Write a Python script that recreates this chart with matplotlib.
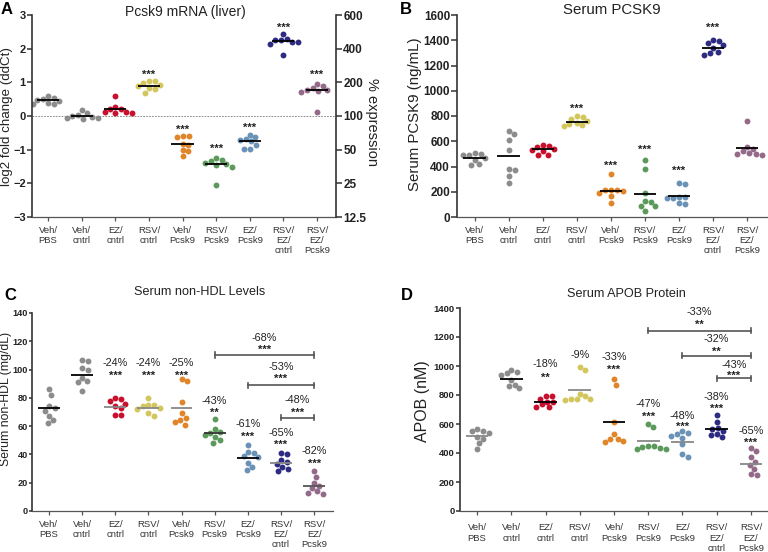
import numpy as np
import matplotlib.pyplot as plt

plt.rcParams['font.family'] = ['Liberation Sans', 'DejaVu Sans']

# groups and colours
groups = ["Veh/\nPBS", "Veh/\ncntrl", "EZ/\ncntrl", "RSV/\ncntrl", "Veh/\nPcsk9",
          "RSV/\nPcsk9", "EZ/\nPcsk9", "RSV/\nEZ/\ncntrl", "RSV/\nEZ/\nPcsk9"]
colors = ["#8c8c8c", "#8c8c8c", "#c8102e", "#d2c65c", "#e0852a",
          "#5c9a5c", "#6a92b6", "#2e2b82", "#946a8a"]

# A: Pcsk9 mRNA (log2 fold change)
mrna = [[0.60, 0.53, 0.48, 0.46, 0.38, 0.36, 0.35, 0.50],
        [0.17, 0.08, 0.02, -0.02, -0.05, -0.08, -0.05, 0.00],
        [0.58, 0.28, 0.22, 0.20, 0.12, 0.10, 0.10, 0.12],
        [1.05, 1.03, 0.98, 0.93, 0.90, 0.80, 0.82, 0.68],
        [-0.60, -0.60, -0.62, -0.82, -0.85, -1.02, -1.05, -1.20],
        [-1.25, -1.30, -1.35, -1.40, -1.42, -1.45, -1.50, -2.05],
        [-0.55, -0.62, -0.68, -0.72, -0.75, -0.85, -0.98, -0.98],
        [2.45, 2.30, 2.25, 2.25, 2.20, 2.20, 2.15, 1.80],
        [0.95, 0.88, 0.82, 0.78, 0.77, 0.75, 0.72, 0.13]]
mrna_mean = [0.47, 0.0, 0.22, 0.90, -0.83, -1.42, -0.75, 2.22, 0.77]
mrna_stars = ["", "", "", "***", "***", "***", "***", "***", "***"]
pct_ticks = ["12.5", "25", "50", "100", "200", "400", "600"]

# B: serum PCSK9 (ng/mL)
pcsk9 = [[510, 500, 495, 490, 465, 450, 420, 410],
         [685, 660, 610, 530, 380, 370, 325, 268],
         [572, 560, 555, 540, 530, 520, 495, 490],
         [800, 790, 780, 760, 745, 735, 725, 720],
         [340, 215, 212, 210, 205, 190, 165, 110],
         [455, 380, 190, 125, 120, 90, 85, 48],
         [268, 260, 160, 155, 150, 148, 110, 105],
         [1405, 1395, 1380, 1360, 1340, 1310, 1300, 1285],
         [760, 555, 540, 520, 505, 500, 500, 495]]
pcsk9_mean = [466, 482, 535, 751, 208, 184, 169, 1342, 548]
pcsk9_stars = ["", "", "", "***", "***", "***", "***", "***", ""]

# C: serum non-HDL (mg/dL)
nonhdl = [[86, 82, 74, 73, 71, 67, 64, 62],
          [107, 106, 101, 100, 94, 92, 91, 85],
          [80, 79, 78, 76, 74, 73, 68, 68],
          [80, 75, 75, 74, 73, 72, 69, 67],
          [93, 92, 77, 69, 66, 64, 63, 61],
          [65, 58, 56, 55, 54, 52, 50, 48],
          [47, 42, 41, 39, 38, 34, 31, 29],
          [41, 40, 36, 35, 33, 31, 30, 28],
          [28, 24, 20, 18, 16, 14, 13, 12]]
nonhdl_mean = [72.6, 96.5, 73.8, 73.0, 73.0, 55.4, 37.8, 34.0, 17.9]
nonhdl_pct = ["", "", "-24%", "-24%", "-25%", "-43%", "-61%", "-65%", "-82%"]
nonhdl_stars = ["", "", "***", "***", "***", "**", "***", "***", "***"]
nonhdl_cmp = [(5, 8, "-68%", "***"), (6, 8, "-53%", "***"), (7, 8, "-48%", "***")]

# D: serum APOB (nM)
apob = [[565, 555, 550, 540, 510, 500, 470, 430],
        [975, 960, 950, 940, 905, 870, 860, 845],
        [795, 790, 775, 755, 750, 735, 720, 715],
        [990, 975, 810, 790, 775, 770, 770, 765],
        [910, 870, 615, 530, 500, 500, 480, 475],
        [600, 580, 450, 445, 440, 435, 430, 425],
        [550, 540, 530, 520, 505, 460, 390, 375],
        [660, 615, 575, 565, 555, 530, 525, 510],
        [435, 415, 370, 340, 320, 290, 255, 245]]
apob_mean = [515, 910, 754, 834, 616, 480, 474, 566, 322]
apob_pct = ["", "", "-18%", "-9%", "-33%", "-47%", "-48%", "-38%", "-65%"]
apob_stars = ["", "", "**", "", "***", "***", "***", "***", "***"]
apob_cmp = [(5, 8, "-33%", "**"), (6, 8, "-32%", "**"), (7, 8, "-43%", "***")]

# layout of annotations (data units, visual centres)
mrna_star_y = [0, 0, 0, 1.29, -0.32, -0.90, -0.26, 2.70, 1.30]
pcsk9_star_y = [0, 0, 0, 880, 422, 551, 387, 1518, 0]
nonhdl_pct_y = [0, 0, 104.3, 104.3, 104.3, 77.8, 61.3, 55.4, 42.5]
nonhdl_star_y = [0, 0, 97.7, 97.7, 97.7, 71.0, 54.0, 48.4, 35.0]
nonhdl_cmp_y = [110.2, 88.8, 66.0]
nonhdl_cmp_pct_y = [122.4, 101.8, 78.5]
nonhdl_cmp_star_y = [115.8, 94.9, 71.0]
apob_pct_y = [0, 0, 1014, 1078, 1064, 738, 657, 784, 554]
apob_star_y = [0, 0, 938, 0, 991, 669, 595, 722, 490]
apob_cmp_y = [1244, 1071, 915]
apob_cmp_pct_y = [1370, 1186, 1007]
apob_cmp_star_y = [1301, 1117, 949]

W, H = 768, 552
fig = plt.figure(figsize=(W / 100, H / 100), dpi=100)
TXT = "#222222"


def px_axes(l, t, r, b):
    return fig.add_axes([l / W, 1 - b / H, (r - l) / W, (b - t) / H])


def ftext(x, y, s, **kw):
    kw.setdefault("ha", "center")
    kw.setdefault("va", "center")
    kw.setdefault("color", TXT)
    return fig.text(x / W, 1 - y / H, s, **kw)


def swarm(vals, ylim, h_px, px_cat, d=6.0):
    y = (np.array(vals, float) - ylim[0]) / (ylim[1] - ylim[0]) * h_px
    xs = np.zeros(len(y))
    placed = []
    for i in np.argsort(-y):
        cands = [0.0]
        for xj, yj in placed:
            dy = y[i] - yj
            if abs(dy) < d:
                dx = np.sqrt(d * d - dy * dy)
                cands += [xj + dx, xj - dx]
        cands.sort(key=abs)
        for c in cands:
            if all((c - xj) ** 2 + (y[i] - yj) ** 2 >= d * d - 1e-6 for xj, yj in placed):
                xs[i] = c
                break
        placed.append((xs[i], y[i]))
    return xs / px_cat


def dots(ax, data, means, ylim, h_px, px_cat, line_cols, xl_pad=3.5, ytick_len=4):
    for i, vals in enumerate(data):
        off = swarm(vals, ylim, h_px, px_cat)
        ax.scatter(i + off, vals, s=18, color=colors[i], linewidths=0, zorder=2)
        ax.hlines(means[i], i - 0.33, i + 0.33, color=line_cols[i], lw=1.3, zorder=3)
    ax.set_ylim(*ylim)
    ax.set_xticks(range(len(groups)))
    ax.set_xticklabels(groups, fontsize=6.8, color="#333333", linespacing=1.15)
    ax.tick_params(axis="x", length=3, width=0.9, color="#555555", pad=xl_pad)
    ax.tick_params(axis="y", length=ytick_len, width=1.1, color="#333333", pad=1.0, labelcolor=TXT)
    for sp in ["top", "right"]:
        ax.spines[sp].set_visible(False)
    ax.spines["left"].set_linewidth(1.2)
    ax.spines["left"].set_color("#333333")
    ax.spines["bottom"].set_color("#555555")
    ax.spines["bottom"].set_linewidth(0.9)


def bold_ticks(ax, size):
    for t in ax.get_yticklabels():
        t.set_fontweight("bold")
        t.set_fontsize(size)


def stars(ax, x, y, s, dy):
    # asterisks sit high in the glyph box, so shift the anchor down a little
    ax.text(x, y - dy, s, ha="center", va="center", fontsize=8, fontweight="bold", color=TXT)


def bracket(ax, x1, x2, y, tick):
    ax.plot([x1, x2], [y, y], color="#555555", lw=1.2)
    ax.plot([x1, x1], [y - tick, y + tick], color="#555555", lw=1.2)
    ax.plot([x2, x2], [y - tick, y + tick], color="#555555", lw=1.2)


# ---- panel A
axA = px_axes(32, 15, 336, 217)
axA.axhline(0, color="#777777", lw=0.6, ls=(0, (2, 1.5)), zorder=1)
dots(axA, mrna, mrna_mean, (-3, 3), 202, 33.6, ["black"] * 9, ytick_len=3.5)
axA.set_xlim(-0.476, 8.565)
axA.set_yticks(range(-3, 4))
bold_ticks(axA, 8.0)
for i, s in enumerate(mrna_stars):
    if s:
        stars(axA, i, mrna_star_y[i], s, 0.08)
axA2 = axA.twinx()
axA2.set_ylim(-3, 3)
axA2.set_yticks(range(-3, 4))
axA2.set_yticklabels(pct_ticks, fontweight="bold", fontsize=8.5, color=TXT)
axA2.tick_params(axis="y", length=4, width=1.1, color="#333333", pad=1.2)
for sp in ["top", "left", "bottom"]:
    axA2.spines[sp].set_visible(False)
axA2.spines["right"].set_linewidth(1.2)
axA2.spines["right"].set_color("#333333")
ftext(7.5, 117, "log2 fold change (ddCt)", rotation=90, fontsize=9.6)
ftext(372, 122, "% expression", rotation=270, fontsize=10.5)
ftext(185, 12, "Pcsk9 mRNA (liver)", fontsize=10)

# ---- panel B
axB = px_axes(457, 15, 767, 217)
dots(axB, pcsk9, pcsk9_mean, (0, 1600), 202, 34.0, ["black"] * 9)
axB.set_xlim(-0.52, 8.59)
axB.set_yticks(range(0, 1601, 200))
bold_ticks(axB, 8.5)
for i, s in enumerate(pcsk9_stars):
    if s:
        stars(axB, i, pcsk9_star_y[i], s, 20)
ftext(415, 114, "Serum PCSK9 (ng/mL)", rotation=90, fontsize=10.8)
ftext(612, 10, "Serum PCSK9", fontsize=10.8)

# ---- panel C
axC = px_axes(32, 313, 333, 511)
lc_C = ["black", "black", "#888888", "#888888", "#888888", "#333333", "black", "#888888", "#555555"]
dots(axC, nonhdl, nonhdl_mean, (0, 140), 198, 33.1, lc_C, ytick_len=2)
axC.set_xlim(-0.51, 8.57)
axC.set_yticks(range(0, 141, 20))
bold_ticks(axC, 6.6)
for i in range(9):
    if nonhdl_pct[i]:
        axC.text(i, nonhdl_pct_y[i], nonhdl_pct[i], ha="center", va="center", fontsize=7.8, color=TXT)
        stars(axC, i, nonhdl_star_y[i], nonhdl_stars[i], 1.8)
for k, (x1, x2, p, s) in enumerate(nonhdl_cmp):
    bracket(axC, x1, x2, nonhdl_cmp_y[k], 1.9)
    axC.text((x1 + x2) / 2, nonhdl_cmp_pct_y[k], p, ha="center", va="center", fontsize=7.8, color=TXT)
    stars(axC, (x1 + x2) / 2, nonhdl_cmp_star_y[k], s, 1.8)
ftext(6.5, 399, "Serum non-HDL (mg/dL)", rotation=90, fontsize=8.8)
ftext(200, 292, "Serum non-HDL Levels", fontsize=9.1)

# ---- panel D
axD = px_axes(460, 308, 767, 511)
lc_D = ["#888888", "black", "black", "#888888", "black", "#888888", "#888888", "black", "#888888"]
dots(axD, apob, apob_mean, (0, 1400), 203, 34.25, lc_D, xl_pad=6, ytick_len=3)
axD.set_xlim(-0.5, 8.47)
axD.set_yticks(range(0, 1401, 200))
bold_ticks(axD, 6.8)
for i in range(9):
    if apob_pct[i]:
        axD.text(i, apob_pct_y[i], apob_pct[i], ha="center", va="center", fontsize=7.8, color=TXT)
        if apob_stars[i]:
            stars(axD, i, apob_star_y[i], apob_stars[i], 17)
for k, (x1, x2, p, s) in enumerate(apob_cmp):
    bracket(axD, x1, x2, apob_cmp_y[k], 19)
    axD.text((x1 + x2) / 2, apob_cmp_pct_y[k], p, ha="center", va="center", fontsize=7.8, color=TXT)
    stars(axD, (x1 + x2) / 2, apob_cmp_star_y[k], s, 17)
ftext(422, 401, "APOB (nM)", rotation=90, fontsize=11.5)
ftext(626, 294, "Serum APOB Protein", fontsize=9.1)

# panel letters
for x, y, l in [(7, 9, "A"), (406, 9, "B"), (10, 296, "C"), (407, 296, "D")]:
    ftext(x, y, l, fontsize=12, fontweight="bold", color="black")

fig.savefig("out.png", dpi=100)
